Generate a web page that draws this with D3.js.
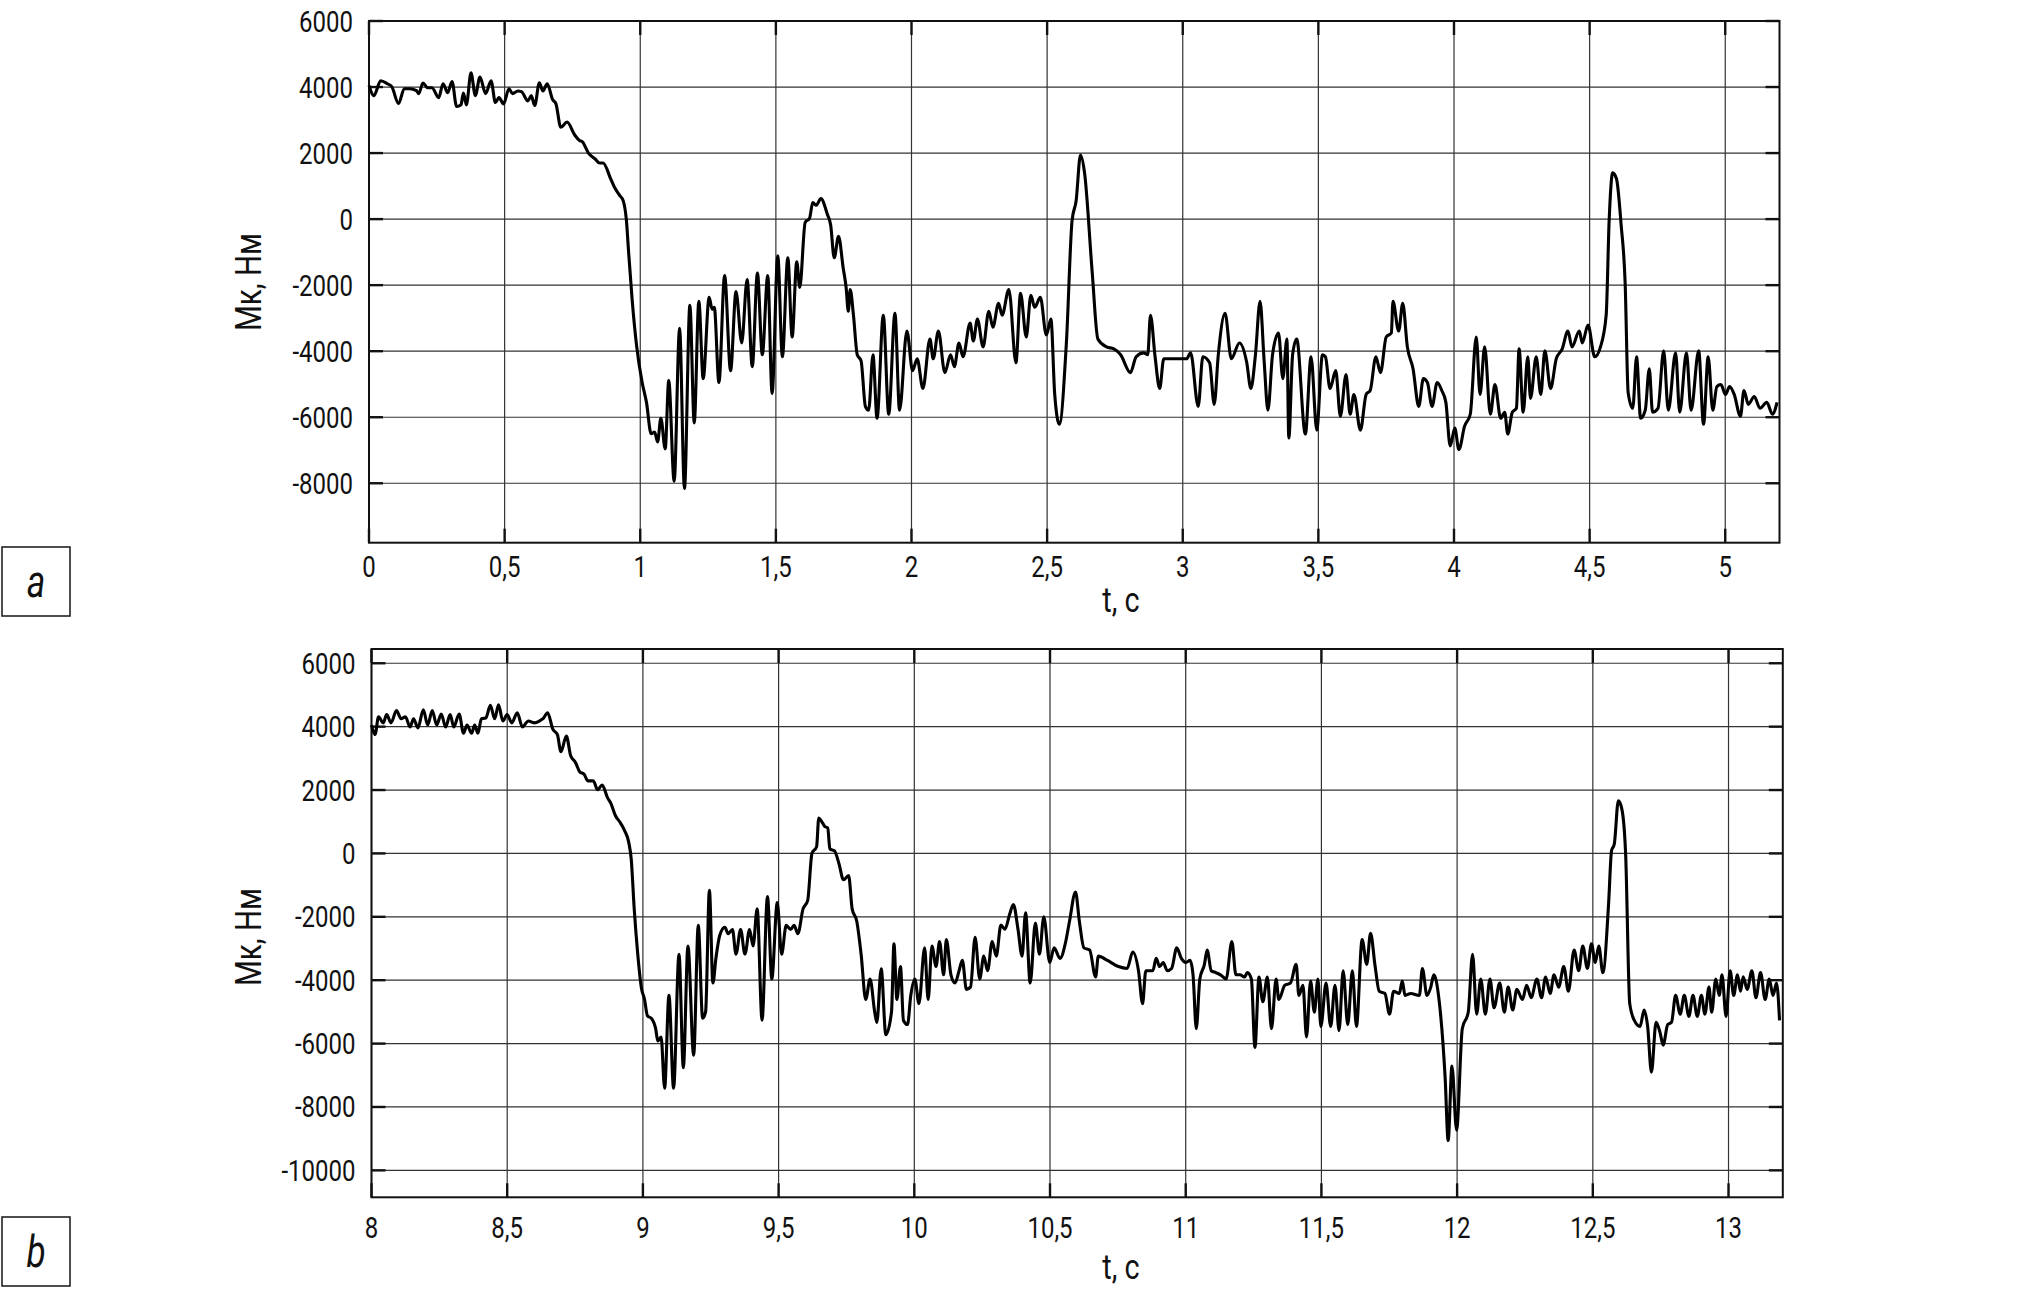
<!DOCTYPE html>
<html>
<head>
<meta charset="utf-8">
<script src="https://cdn.jsdelivr.net/npm/d3@7"></script>
<style>
  body { margin: 0; background: #fff; }
  svg { display: block; }
  text { font-family: Roboto, "DejaVu Sans", sans-serif; fill: #111; }
</style>
</head>
<body>
<svg width="2020" height="1291"></svg>
<script>
// --- data ---
const tA = [0,0.018,0.043,0.068,0.084,0.109,0.130,0.150,0.175,0.183,0.199,0.216,0.232,0.257,0.273,0.290,0.306,0.323,0.339,0.348,0.359,0.376,0.392,0.409,0.430,0.450,0.466,0.479,0.496,0.516,0.529,0.549,0.562,0.586,0.598,0.611,0.628,0.641,0.657,0.677,0.689,0.707,0.730,0.759,0.776,0.787,0.809,0.834,0.850,0.863,0.891,0.904,0.924,0.937,0.949,0.957,0.970,0.987,1.007,1.023,1.040,1.053,1.064,1.076,1.092,1.105,1.125,1.145,1.163,1.183,1.199,1.216,1.232,1.254,1.265,1.273,1.290,1.311,1.333,1.353,1.374,1.394,1.413,1.432,1.450,1.470,1.486,1.507,1.524,1.544,1.560,1.577,1.588,1.608,1.624,1.636,1.649,1.666,1.690,1.702,1.715,1.731,1.748,1.759,1.767,1.774,1.786,1.800,1.814,1.830,1.842,1.858,1.873,1.896,1.916,1.939,1.956,1.983,2.004,2.021,2.042,2.068,2.080,2.099,2.123,2.144,2.158,2.175,2.190,2.216,2.228,2.243,2.264,2.285,2.300,2.321,2.334,2.359,2.385,2.402,2.423,2.440,2.454,2.475,2.497,2.514,2.528,2.545,2.571,2.592,2.607,2.623,2.638,2.666,2.687,2.719,2.746,2.771,2.807,2.828,2.856,2.871,2.881,2.898,2.915,2.930,2.962,3.014,3.029,3.057,3.074,3.099,3.116,3.131,3.156,3.179,3.209,3.236,3.251,3.268,3.285,3.300,3.314,3.331,3.353,3.369,3.384,3.391,3.405,3.420,3.452,3.473,3.494,3.515,3.526,3.543,3.564,3.581,3.602,3.617,3.631,3.655,3.676,3.691,3.712,3.729,3.750,3.769,3.775,3.796,3.811,3.828,3.849,3.870,3.887,3.902,3.919,3.938,3.955,3.970,3.986,4.003,4.018,4.039,4.060,4.082,4.096,4.113,4.134,4.151,4.172,4.187,4.198,4.215,4.230,4.240,4.255,4.272,4.282,4.303,4.320,4.335,4.356,4.377,4.399,4.420,4.435,4.462,4.473,4.494,4.519,4.540,4.561,4.572,4.585,4.599,4.616,4.631,4.642,4.659,4.673,4.688,4.705,4.720,4.732,4.752,4.773,4.790,4.817,4.832,4.857,4.874,4.902,4.920,4.937,4.954,4.969,4.984,5.001,5.016,5.033,5.056,5.069,5.085,5.107,5.128,5.153,5.174,5.191];
const mA = [4050,3740,4190,4100,4010,3500,3950,3950,3890,3800,4120,3980,3980,3680,4100,3830,4170,3410,3460,3820,3460,4430,3740,4300,3800,4190,3530,3680,3490,3950,3800,3880,3860,3580,3740,3440,4130,3880,4100,3620,3500,2780,2940,2540,2380,2340,2000,1820,1700,1700,1220,980,720,560,-40,-990,-2430,-3870,-4950,-5550,-6500,-6450,-6750,-6030,-6960,-4890,-7940,-3310,-8160,-2610,-6170,-2490,-4830,-2370,-2730,-2670,-4950,-1710,-4590,-2190,-3750,-1830,-4470,-1630,-4110,-1710,-5280,-1110,-4170,-1170,-3570,-1290,-2070,-100,20,500,420,620,140,-180,-1170,-520,-1470,-2070,-2790,-2130,-2910,-4110,-4290,-5670,-5790,-4110,-6030,-2910,-5910,-2850,-5790,-3390,-4590,-4230,-5130,-3630,-4230,-3390,-4650,-4110,-4470,-3750,-4170,-3150,-3690,-3030,-3870,-2790,-3270,-2550,-2910,-2130,-4350,-2250,-3570,-2310,-2670,-2370,-3510,-3030,-5310,-6210,-3750,-40,560,1940,1400,-1590,-3630,-3870,-3930,-4110,-4650,-4170,-4050,-4110,-2910,-4170,-5130,-4230,-4230,-4230,-4050,-5670,-4170,-4350,-5610,-4110,-2850,-4230,-3750,-4350,-5130,-4110,-2490,-4290,-5790,-4110,-3450,-4830,-3630,-6630,-4110,-3630,-6510,-4170,-6390,-4110,-4170,-5130,-4590,-5970,-4710,-5910,-5310,-6390,-5310,-5190,-4170,-4650,-3570,-3450,-2490,-3390,-2550,-3870,-4530,-5670,-4830,-4950,-5670,-4950,-5190,-5550,-6870,-6330,-6980,-6270,-5910,-3570,-5310,-3870,-5910,-5010,-6030,-5850,-6510,-5850,-5730,-3930,-5850,-4170,-5430,-4170,-5310,-3990,-5130,-4230,-3930,-3390,-3870,-3390,-3750,-3210,-4170,-3870,-2910,-40,1400,1220,-160,-1950,-5250,-5730,-4170,-6030,-5790,-4530,-5850,-5730,-3990,-5790,-4050,-5850,-4050,-5790,-3990,-6210,-4170,-5790,-5070,-5010,-5310,-5070,-5310,-5970,-5190,-5610,-5370,-5730,-5550,-5910,-5550];

const tB = [8.000,8.013,8.026,8.043,8.056,8.072,8.092,8.109,8.125,8.142,8.155,8.171,8.191,8.207,8.224,8.240,8.257,8.273,8.290,8.303,8.323,8.339,8.352,8.369,8.380,8.392,8.405,8.421,8.438,8.454,8.468,8.484,8.500,8.517,8.537,8.556,8.578,8.599,8.619,8.632,8.649,8.668,8.685,8.698,8.718,8.734,8.751,8.767,8.784,8.797,8.817,8.833,8.850,8.869,8.882,8.899,8.915,8.932,8.948,8.957,8.968,8.981,8.994,9.006,9.017,9.031,9.047,9.055,9.067,9.080,9.096,9.113,9.133,9.149,9.166,9.187,9.204,9.220,9.231,9.245,9.258,9.269,9.283,9.302,9.314,9.330,9.343,9.360,9.376,9.393,9.406,9.421,9.439,9.459,9.475,9.495,9.511,9.528,9.544,9.557,9.571,9.590,9.607,9.623,9.640,9.648,9.660,9.669,9.681,9.689,9.706,9.722,9.739,9.758,9.771,9.788,9.804,9.821,9.837,9.854,9.862,9.878,9.895,9.916,9.925,9.936,9.949,9.960,9.975,9.987,10.002,10.017,10.038,10.051,10.065,10.080,10.093,10.108,10.118,10.135,10.150,10.165,10.177,10.192,10.207,10.224,10.241,10.256,10.270,10.287,10.302,10.319,10.334,10.351,10.365,10.382,10.397,10.410,10.427,10.446,10.461,10.477,10.499,10.515,10.537,10.558,10.572,10.594,10.608,10.625,10.646,10.668,10.678,10.710,10.752,10.784,10.805,10.826,10.841,10.853,10.879,10.891,10.904,10.917,10.932,10.948,10.967,10.984,11.001,11.016,11.027,11.039,11.052,11.069,11.079,11.094,11.111,11.128,11.149,11.170,11.185,11.200,11.217,11.227,11.242,11.255,11.270,11.284,11.301,11.316,11.333,11.343,11.365,11.386,11.407,11.417,11.432,11.445,11.460,11.474,11.487,11.498,11.517,11.534,11.550,11.565,11.580,11.597,11.614,11.629,11.650,11.667,11.681,11.698,11.713,11.734,11.751,11.766,11.787,11.798,11.808,11.829,11.861,11.872,11.889,11.903,11.914,11.935,11.956,11.967,11.981,11.998,12.019,12.041,12.057,12.072,12.087,12.104,12.121,12.136,12.157,12.174,12.188,12.205,12.220,12.241,12.256,12.273,12.294,12.311,12.326,12.343,12.357,12.374,12.393,12.410,12.431,12.448,12.463,12.480,12.495,12.509,12.522,12.537,12.558,12.569,12.579,12.594,12.607,12.621,12.636,12.653,12.674,12.689,12.702,12.716,12.733,12.748,12.759,12.776,12.790,12.805,12.822,12.837,12.854,12.869,12.885,12.900,12.913,12.928,12.938,12.953,12.966,12.976,12.991,13.006,13.019,13.033,13.044,13.054,13.069,13.086,13.101,13.118,13.135,13.150,13.164,13.177,13.188];
const mB = [4050,3750,4310,4120,4380,4120,4510,4250,4310,3990,4250,3960,4530,4050,4510,4050,4400,3990,4380,3990,4400,3790,4050,3790,4050,3790,4250,4270,4670,4250,4690,4180,4380,4120,4440,3990,4180,4120,4180,4250,4440,3920,3750,3210,3700,3080,2880,2580,2490,2290,2290,2010,2160,1770,1580,1190,990,730,340,-180,-1750,-3180,-4220,-4610,-5130,-5200,-5530,-5920,-5790,-7410,-4480,-7410,-3180,-6760,-2920,-6370,-2270,-5200,-5000,-1160,-4090,-3310,-2590,-2330,-2530,-2400,-3180,-2400,-3180,-2400,-2920,-1750,-5260,-1360,-3960,-1550,-3180,-2270,-2400,-2270,-2530,-1750,-1490,10,210,1120,990,860,800,140,80,-310,-830,-700,-1750,-2140,-3180,-4610,-3960,-5000,-5330,-3640,-5720,-5000,-2850,-4610,-3570,-5270,-5400,-4480,-3960,-4740,-2980,-4610,-2920,-3570,-2780,-3830,-2720,-3830,-4090,-3700,-3370,-4290,-4220,-2650,-3960,-3240,-3700,-2780,-3240,-2260,-2390,-1930,-1610,-2390,-3240,-1870,-4090,-2200,-3180,-2000,-3440,-2980,-3310,-2780,-2130,-1220,-2130,-2980,-3050,-3900,-3240,-3370,-3570,-3630,-3110,-3700,-4740,-3700,-3700,-3310,-3570,-3440,-3700,-3630,-2980,-3310,-3440,-3370,-3830,-5530,-3960,-3500,-3050,-3700,-3760,-3830,-3960,-2780,-3830,-3830,-3900,-3760,-3960,-6120,-3900,-4680,-3900,-5530,-3960,-4610,-4160,-4090,-3500,-4480,-4160,-5790,-4030,-5010,-3960,-5460,-4090,-5460,-4160,-5590,-3700,-5400,-3700,-5460,-2720,-3500,-2520,-3570,-4350,-4420,-5070,-4350,-4420,-4030,-4480,-4420,-4480,-3630,-4480,-4220,-3830,-4740,-7100,-9060,-6710,-8730,-5530,-5010,-3180,-5070,-3960,-5070,-3960,-4870,-4090,-5010,-4220,-4940,-4290,-4610,-4160,-4550,-3960,-4550,-3900,-4420,-3830,-4220,-3570,-4350,-3050,-3700,-2920,-3630,-2850,-3440,-2920,-3760,-1610,90,290,1660,1400,-40,-4740,-5270,-5460,-4940,-5460,-6900,-5330,-5660,-6050,-5400,-5330,-4480,-5070,-4480,-5140,-4480,-5140,-4480,-5070,-4220,-5010,-3960,-4480,-3830,-5140,-3700,-4480,-3830,-4350,-3890,-4290,-3700,-4550,-3760,-4610,-3960,-4480,-4090,-5270];

const xTicksA = [0, 0.5, 1, 1.5, 2, 2.5, 3, 3.5, 4, 4.5, 5];
const xTicksB = [8, 8.5, 9, 9.5, 10, 10.5, 11, 11.5, 12, 12.5, 13];
const yTicksA = [6000, 4000, 2000, 0, -2000, -4000, -6000, -8000];
const yTicksB = [6000, 4000, 2000, 0, -2000, -4000, -6000, -8000, -10000];

const svg = d3.select("svg");
svg.append("rect").attr("width", 2020).attr("height", 1291).attr("fill", "#fff");

const fmt = v => String(v).replace(".", ",");
const narrow = 0.8; // horizontal squeeze to mimic the condensed face

// text drawn squeezed horizontally around its anchor point
function label(g, x, y, str, size, anchor, extra) {
  return g.append("text")
    .attr("transform", `translate(${x},${y}) ${extra || ""} scale(${narrow},1)`)
    .attr("text-anchor", anchor).style("font-size", size + "px")
    .text(str);
}

function drawPanel(p) {
  const x = d3.scaleLinear().domain(p.xDomain).range([p.left, p.right]);
  const y = d3.scaleLinear().domain(p.yDomain).range([p.bottom, p.top]);
  const g = svg.append("g");

  // grid
  g.selectAll(".gx").data(p.xTicks).join("line")
    .attr("x1", d => x(d)).attr("x2", d => x(d))
    .attr("y1", p.top).attr("y2", p.bottom)
    .attr("stroke", "#333").attr("stroke-width", 1.2);
  g.selectAll(".gy").data(p.yTicks).join("line")
    .attr("x1", p.left).attr("x2", p.right)
    .attr("y1", d => y(d)).attr("y2", d => y(d))
    .attr("stroke", "#333").attr("stroke-width", 1.2);

  // short inner tick marks on all four sides
  const tl = 14;
  p.yTicks.forEach(v => {
    g.append("line").attr("x1", p.left).attr("x2", p.left + tl).attr("y1", y(v)).attr("y2", y(v))
      .attr("stroke", "#111").attr("stroke-width", 2.4);
    g.append("line").attr("x1", p.right - tl).attr("x2", p.right).attr("y1", y(v)).attr("y2", y(v))
      .attr("stroke", "#111").attr("stroke-width", 2.4);
  });
  p.xTicks.forEach(v => {
    g.append("line").attr("x1", x(v)).attr("x2", x(v)).attr("y1", p.top).attr("y2", p.top + tl)
      .attr("stroke", "#111").attr("stroke-width", 2.4);
    g.append("line").attr("x1", x(v)).attr("x2", x(v)).attr("y1", p.bottom - tl).attr("y2", p.bottom)
      .attr("stroke", "#111").attr("stroke-width", 2.4);
  });

  // frame
  g.append("rect").attr("x", p.left).attr("y", p.top)
    .attr("width", p.right - p.left).attr("height", p.bottom - p.top)
    .attr("fill", "none").attr("stroke", "#111").attr("stroke-width", 2);

  // tick labels
  p.yTicks.forEach(v => label(g, p.left - 16, y(v) + 10.5, v < 0 ? "-" + Math.abs(v) : String(v), 30, "end"));
  p.xTicks.forEach(v => label(g, x(v), p.xLabelY, fmt(v), 30, "middle"));

  // axis titles
  label(g, 1121, p.xTitleY, "t, c", 36, "middle");
  label(g, p.yTitleX, p.yTitleCY, "Мк, Нм", 37, "middle", "rotate(-90)");

  // signal
  const pts = p.t.map((t, i) => [t, p.m[i]]);
  g.append("path").datum(pts)
    .attr("fill", "none").attr("stroke", "#000").attr("stroke-width", 3.1)
    .attr("stroke-linejoin", "round")
    .attr("d", d3.line().curve(d3.curveMonotoneX).x(d => x(d[0])).y(d => y(d[1])));

  // panel letter box
  g.append("rect").attr("x", 2).attr("y", p.boxY).attr("width", 68).attr("height", 69)
    .attr("fill", "none").attr("stroke", "#222").attr("stroke-width", 1.6);
  label(g, 36, p.boxY + 50, p.letter, 44, "middle").style("font-style", "italic");
}

drawPanel({
  t: tA, m: mA, xTicks: xTicksA, yTicks: yTicksA,
  xDomain: [0, 5.2], yDomain: [-9800, 6000],
  left: 369, right: 1779.5, top: 21, bottom: 542.7,
  xLabelY: 577, xTitleY: 612, yTitleX: 261, yTitleCY: 282,
  boxY: 547, letter: "a"
});

drawPanel({
  t: tB, m: mB, xTicks: xTicksB, yTicks: yTicksB,
  xDomain: [8, 13.2], yDomain: [-10850, 6450],
  left: 371.5, right: 1782.8, top: 649, bottom: 1197.3,
  xLabelY: 1238, xTitleY: 1279, yTitleX: 261, yTitleCY: 937,
  boxY: 1217, letter: "b"
});
</script>
</body>
</html>
